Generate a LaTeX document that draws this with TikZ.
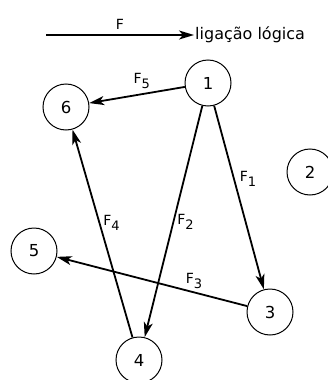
\documentclass[tikz,border=0pt]{standalone}
\usepackage{fontspec}
\setmainfont{DejaVu Sans}
\usepackage{tikz}
\usetikzlibrary{arrows.meta,positioning}

\newcommand{\flab}[1]{F\raisebox{-5pt}{\fontsize{13}{15}\selectfont #1}}

\begin{document}
\begin{tikzpicture}[
            x=1pt, y=-1pt,
            station/.style={circle, draw=black, line width=1pt, minimum size=46pt, inner sep=0pt, font=\fontsize{16.5}{19}\selectfont},
            link/.style={-{Stealth[length=15pt, width=9pt, inset=4pt]}, line width=1.8pt},
            flabel/.style={font=\fontsize{14}{17}\selectfont, inner sep=2pt}
        ]
        \useasboundingbox (0,0) rectangle (328,380);

        % legend
        \coordinate (legstart) at (46,35);
        \node[anchor=west, inner sep=1pt, font=\fontsize{16}{19}\selectfont] (legend) at (194,35) {ligação lógica};
        \draw[link] (legstart) -- (legend) node[flabel, midway, above=3pt] (lf) {F};

        % stations
        \node[station] (n1) at (208,83) {1};
        \node[station] (n2) at (310,172) {2};
        \node[station] (n3) at (270,312) {3};
        \node[station] (n4) at (139,360) {4};
        \node[station] (n5) at (34,251) {5};
        \node[station] (n6) at (66,107) {6};

        \draw[link] (n1) -- node[flabel, pos=0.45, above=3pt] (lf5) {\flab{5}} (n6);
        \draw[link] (n1) -- node[flabel, pos=0.4, right=3pt] (lf1) {\flab{1}} (n3);
        \draw[link] (n1) -- node[flabel, pos=0.5, right=1pt] (lf2) {\flab{2}} (n4);
        \draw[link] (n4) -- node[flabel, pos=0.55, right=1pt] (lf4) {\flab{4}} (n6);
        \draw[link] (n3) -- node[flabel, pos=0.28, above=1pt] (lf3) {\flab{3}} (n5);

    \end{tikzpicture}
\end{document}
